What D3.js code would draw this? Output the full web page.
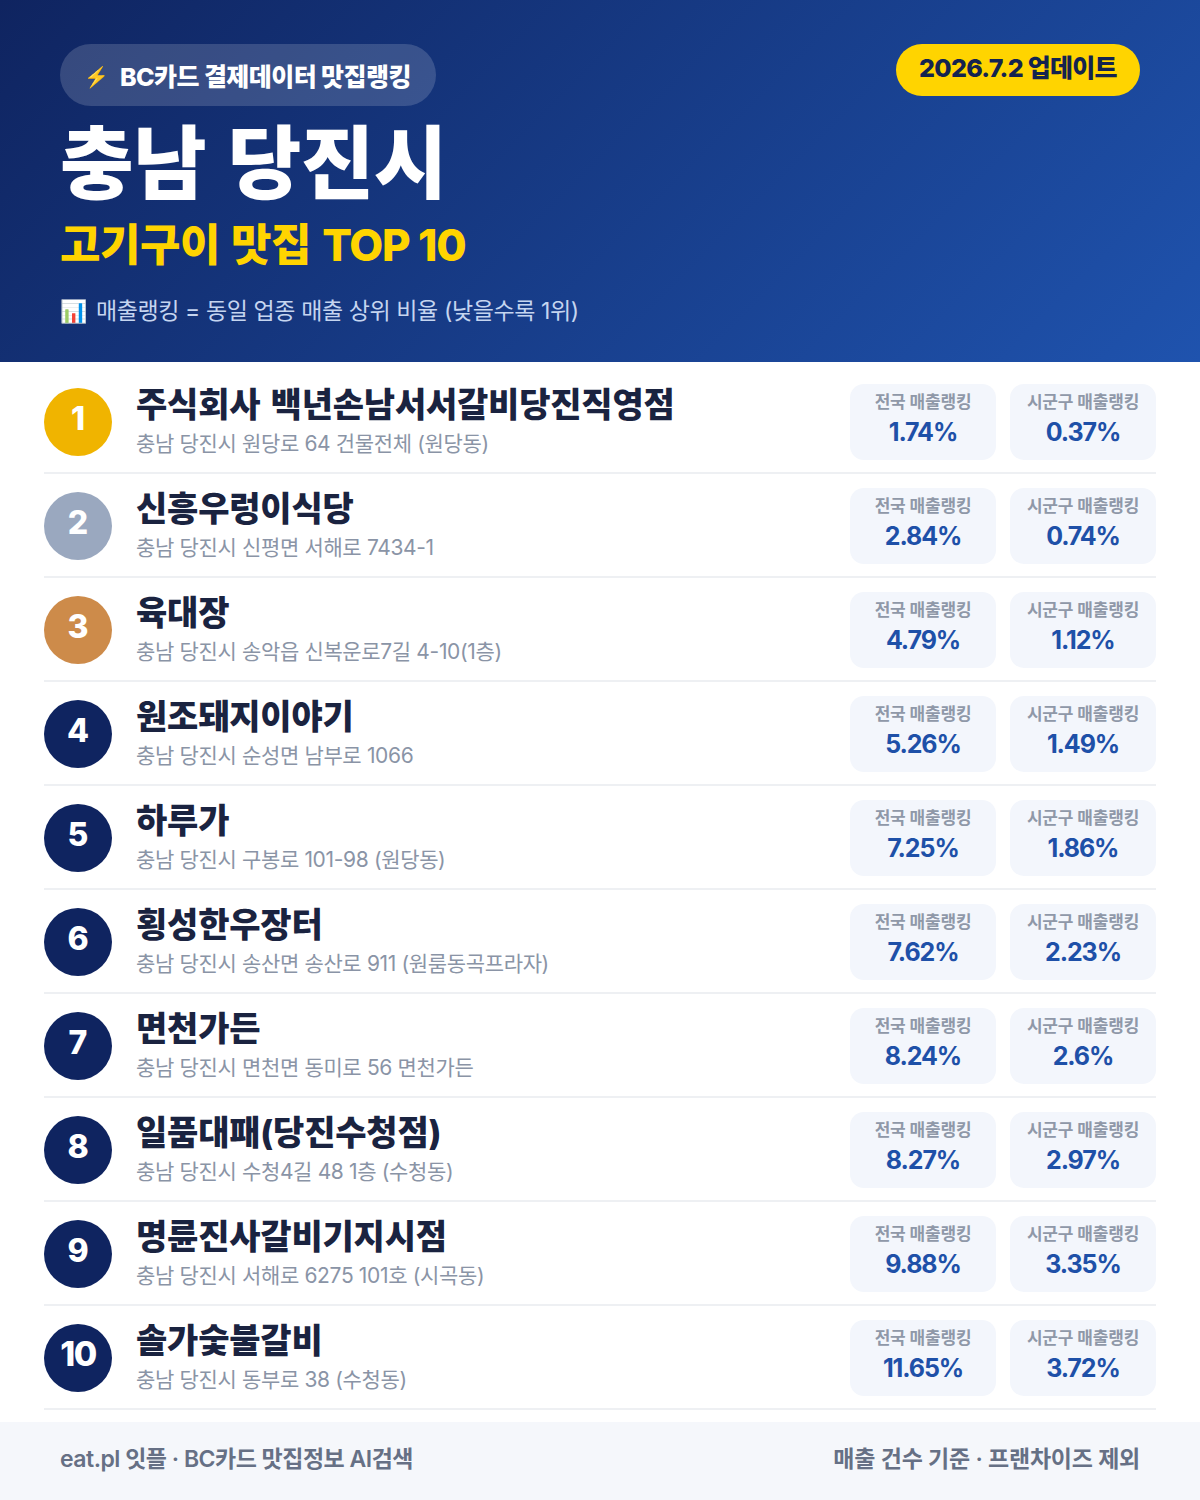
<!DOCTYPE html>
<html lang="ko"><head><meta charset="utf-8">
<script src="https://cdn.jsdelivr.net/npm/d3@7/dist/d3.min.js"></script>
<style>html,body{margin:0;padding:0;background:#fff}svg{display:block}text{font-family:Inter,"Noto Sans CJK KR","Noto Sans",sans-serif}</style>
</head><body><div id="c"></div>
<script>
const ranks=[1,2,3,4,5,6,7,8,9,10];
const names=["주식회사 백년손남서서갈비당진직영점","신흥우렁이식당","육대장","원조돼지이야기","하루가","횡성한우장터","면천가든","일품대패(당진수청점)","명륜진사갈비기지시점","솔가숯불갈비"];
const addresses=["충남 당진시 원당로 64 건물전체 (원당동)","충남 당진시 신평면 서해로 7434-1","충남 당진시 송악읍 신복운로7길 4-10(1층)","충남 당진시 순성면 남부로 1066","충남 당진시 구봉로 101-98 (원당동)","충남 당진시 송산면 송산로 911 (원룸동곡프라자)","충남 당진시 면천면 동미로 56 면천가든","충남 당진시 수청4길 48 1층 (수청동)","충남 당진시 서해로 6275 101호 (시곡동)","충남 당진시 동부로 38 (수청동)"];
const national=["1.74%","2.84%","4.79%","5.26%","7.25%","7.62%","8.24%","8.27%","9.88%","11.65%"];
const local=["0.37%","0.74%","1.12%","1.49%","1.86%","2.23%","2.6%","2.97%","3.35%","3.72%"];
const W=1200,H=1500;
const svg=d3.select("#c").append("svg").attr("width",W).attr("height",H).attr("viewBox",`0 0 ${W} ${H}`);
const defs=svg.append("defs");
const g=defs.append("linearGradient").attr("id","hg").attr("gradientUnits","userSpaceOnUse").attr("x1",209.5).attr("y1",-209.5).attr("x2",990.5).attr("y2",571.5);
g.append("stop").attr("offset",0).attr("stop-color","#0f2460");
g.append("stop").attr("offset",1).attr("stop-color","#1f53ae");
svg.append("rect").attr("width",W).attr("height",362).attr("fill","url(#hg)");
const T=(s,x,y,size,weight,fill,anchor,ls,ws)=>svg.append("text").attr("x",x).attr("y",y).attr("font-size",size).attr("font-weight",weight).attr("fill",fill).attr("text-anchor",anchor||"start").attr("letter-spacing",ls||0).attr("word-spacing",ws||0).text(s);
svg.append("rect").attr("x",60).attr("y",44).attr("width",376).attr("height",62).attr("rx",31).attr("fill","#fff").attr("fill-opacity",0.16);
T("⚡",84,84,20,700,"#fff");
T("BC카드 결제데이터 맛집랭킹",120,86,25,800,"#fff","start",-0.55);
T("충남 당진시",60,192,80,900,"#fff","start",-0.5,6);
const sub=T("고기구이 맛집 ",60,261,44,800,"#FFD400","start",-0.5,2);
sub.append("tspan").attr("letter-spacing",-1.2).attr("word-spacing",0).text("TOP 10");
T("📊",60,319,22,400,"#bcd0f0");
T("매출랭킹 = 동일 업종 매출 상위 비율 (낮을수록 1위)",96,319,23,400,"#c5d5f0","start",-0.4);
svg.append("rect").attr("x",896).attr("y",44).attr("width",244).attr("height",52).attr("rx",26).attr("fill","#FFD400");
T("2026.7.2 업데이트",1018,77,25,800,"#14234f","middle",-0.7);
const y=d3.scaleBand().domain(ranks).range([370,1410]);
const rankColor=d3.scaleOrdinal().domain([1,2,3]).range(["#F0B400","#9AA8BF","#CD8B4A"]).unknown("#0f2460");
const rows=svg.selectAll("g.row").data(ranks).join("g").attr("class","row").attr("transform",d=>`translate(0,${y(d)})`);
rows.append("rect").attr("x",44).attr("y",102).attr("width",1112).attr("height",2).attr("fill","#eef0f3");
rows.append("circle").attr("cx",78).attr("cy",52).attr("r",34).attr("fill",d=>rankColor(d));
rows.append("text").attr("x",78).attr("y",60).attr("text-anchor","middle").attr("font-size",d=>d>9?34:32).attr("font-weight",800).attr("fill","#fff").attr("letter-spacing",d=>d>9?-1.5:0).text(d=>d);
rows.append("text").attr("x",136).attr("y",47).attr("font-size",34).attr("font-weight",800).attr("fill","#1a2340").attr("letter-spacing",-0.2).attr("word-spacing",3).text((d,i)=>names[i]);
rows.append("text").attr("x",136).attr("y",81).attr("font-size",21).attr("font-weight",400).attr("fill","#8a94a6").attr("letter-spacing",-0.35).text((d,i)=>addresses[i]);
const boxes=[{x:850,w:146,label:"전국 매출랭킹",vals:national},{x:1010,w:146,label:"시군구 매출랭킹",vals:local}];
boxes.forEach(b=>{
 rows.append("rect").attr("x",b.x).attr("y",14).attr("width",b.w).attr("height",76).attr("rx",14).attr("fill","#f3f6fc");
 rows.append("text").attr("x",b.x+b.w/2).attr("y",38).attr("text-anchor","middle").attr("font-size",17).attr("font-weight",600).attr("fill","#8f98a8").attr("letter-spacing",-0.2).text(b.label);
 rows.append("text").attr("x",b.x+b.w/2).attr("y",71).attr("text-anchor","middle").attr("font-size",25).attr("font-weight",700).attr("fill","#1e50a8").attr("letter-spacing",-1.1).text((d,i)=>b.vals[i]);
});
svg.append("rect").attr("y",1422).attr("width",W).attr("height",78).attr("fill","#f5f7fb");
T("eat.pl 잇플 · BC카드 맛집정보 AI검색",60,1467,23,600,"#667085","start",-0.5);
T("매출 건수 기준 · 프랜차이즈 제외",1140,1467,23,600,"#667085","end",-0.25);
</script></body></html>
